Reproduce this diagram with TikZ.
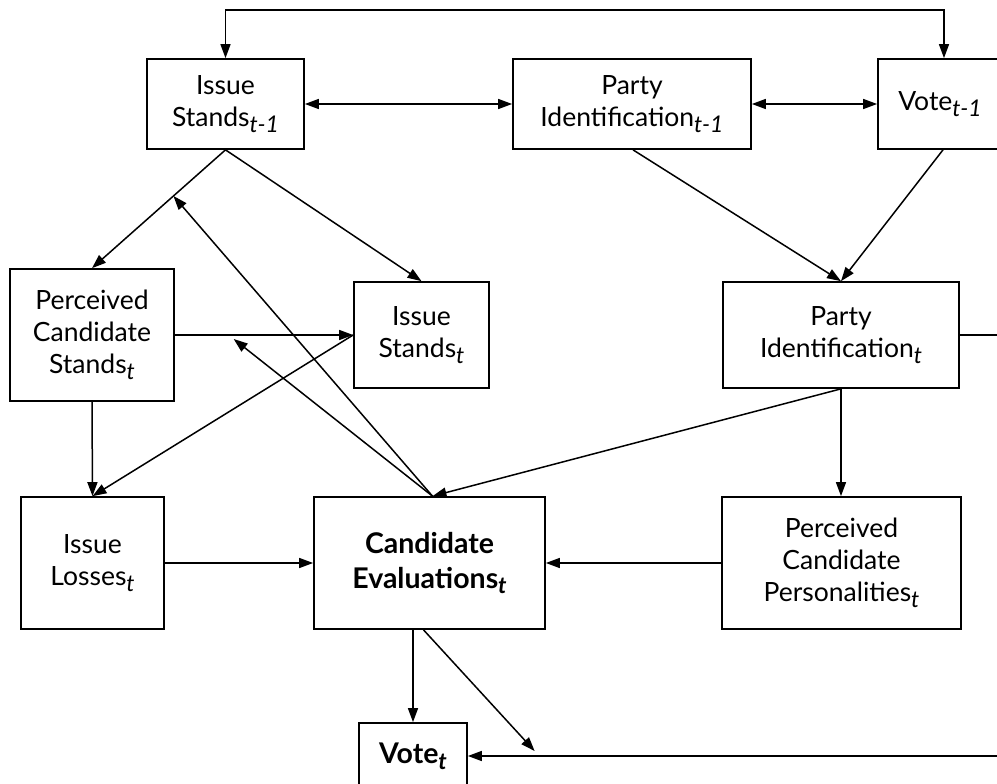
\documentclass[tikz,border=0pt]{standalone}
\usepackage{fontspec}
\setmainfont{Lato}
\usetikzlibrary{arrows.meta}
\newcommand{\sbt}[1]{\raisebox{-0.4ex}{\fontsize{23}{23}\selectfont\itshape #1}}
\begin{document}
\begin{tikzpicture}[x=1pt,y=-1pt,
 box/.style={draw, line width=1.7pt, rectangle, align=center, font=\fontsize{26.5}{32}\selectfont, inner sep=0pt},
 boldbox/.style={box, font=\fontsize{28.5}{35}\selectfont\bfseries},
 arr/.style={line width=1.5pt, -{Triangle[length=14pt,width=10pt]}},
 barr/.style={line width=1.5pt, {Triangle[length=14pt,width=10pt]}-{Triangle[length=14pt,width=10pt]}},
 ln/.style={line width=1.5pt}]
\useasboundingbox (0,0) rectangle (997,784);
% row 1
\node[box, minimum width=157pt, minimum height=90pt] (is1) at (225.5,104) {Issue\\Stands\sbt{t-1}};
\node[box, minimum width=238pt, minimum height=90pt] (pid1) at (632,104) {Party\\Identification\sbt{t-1}};
\node[box, minimum width=124pt, minimum height=90pt] (v1) at (940,104) {Vote\sbt{t-1}};
% row 2
\node[box, minimum width=164pt, minimum height=132pt] (pcs) at (92,335) {Perceived\\Candidate\\Stands\sbt{t}};
\node[box, minimum width=135pt, minimum height=106pt] (ist) at (421.5,335) {Issue\\Stands\sbt{t}};
\node[box, minimum width=236pt, minimum height=106pt] (pidt) at (841,335) {Party\\Identification\sbt{t}};
% row 3
\node[box, minimum width=143pt, minimum height=132pt] (il) at (92.5,563) {Issue\\Losses\sbt{t}};
\node[boldbox, minimum width=231pt, minimum height=132pt] (ce) at (429.5,563) {Candidate\\Evaluations\sbt{t}};
\node[box, minimum width=239pt, minimum height=132pt] (ppt) at (841.5,563) {Perceived\\Candidate\\Personalities\sbt{t}};
% row 4
\node[boldbox, minimum width=108pt, minimum height=66pt] (vt) at (413,756) {Vote\sbt{t}};
% free coordinates
\coordinate (c1) at (225.5,10);
\coordinate (c2) at (944,10);
\coordinate (rp) at (1002,335);
\coordinate (rv) at (1002,756);
% connectors
\draw[barr] (is1.north) -- (c1) -- (c2) -- (c2 |- v1.north);
\draw[barr] (is1.east) -- (pid1.west);
\draw[barr] (pid1.east) -- (v1.west);
\draw[arr] (is1.south) -- (pcs.north) coordinate[pos=0.39] (m1);
\draw[arr] (is1.south) -- (ist.north);
\draw[arr] ([xshift=1pt]pid1.south) -- (pidt.north);
\draw[arr] ([xshift=3pt]v1.south) -- (pidt.north);
\draw[arr] (pcs.east) -- (ist.west) coordinate[pos=0.33] (m2);
\draw[arr] (ist.west) -- (il.north);
\draw[arr] (pcs.south) -- (il.north);
\draw[arr] (il.east) -- (ce.west);
\draw[arr] (pidt.south) -- ([xshift=3pt]ce.north);
\draw[arr] (pidt.south) -- (ppt.north -| pidt.south);
\draw[arr] (ppt.west) -- (ce.east);
\draw[arr] ([xshift=3pt]ce.north) -- (m1);
\draw[arr] ([xshift=3pt]ce.north) -- ([yshift=-4pt]m2);
\draw[arr] (vt.north |- ce.south) -- (vt.north);
\draw[ln] (pidt.east) -- (rp);
\draw[arr] (rv) -- (vt.east) coordinate[pos=0.875] (m3);
\draw[arr] ([xshift=-6pt]ce.south) -- ([yshift=5pt]m3);
\end{tikzpicture}
\end{document}
